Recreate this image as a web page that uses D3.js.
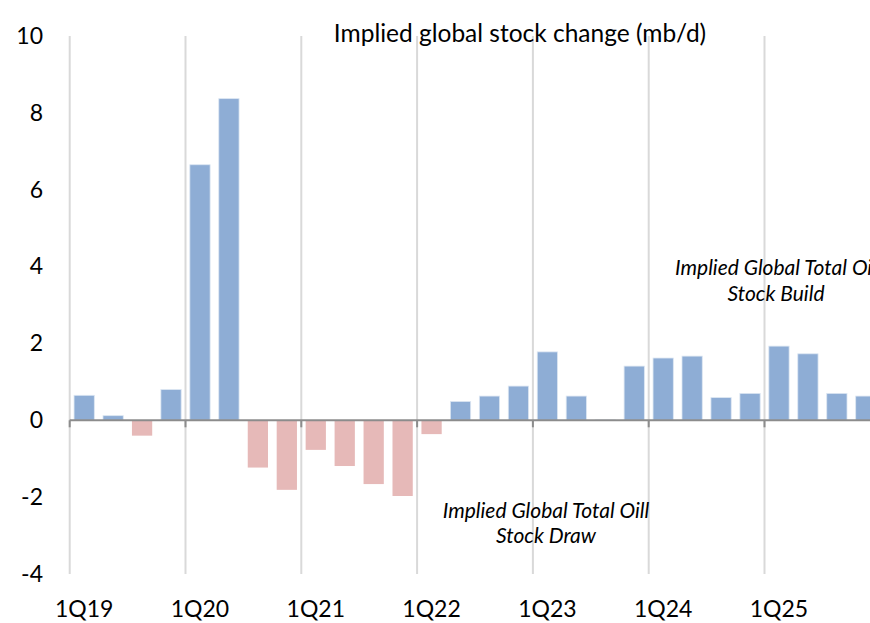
<!DOCTYPE html>
<html lang="en">
<head>
<meta charset="utf-8">
<title>Implied global stock change</title>
<script src="https://cdn.jsdelivr.net/npm/d3@7"></script>
<style>
  body { margin: 0; background: #fff; }
  svg { display: block; font-family: Lato, "Open Sans", sans-serif; }
</style>
</head>
<body>
<script>
// quarters and implied stock change (mb/d)
var quarters = ["1Q19","2Q19","3Q19","4Q19","1Q20","2Q20","3Q20","4Q20",
                "1Q21","2Q21","3Q21","4Q21","1Q22","2Q22","3Q22","4Q22",
                "1Q23","2Q23","3Q23","4Q23","1Q24","2Q24","3Q24","4Q24",
                "1Q25","2Q25","3Q25","4Q25"];
var stockChange = [0.65, 0.12, -0.40, 0.80, 6.65, 8.37, -1.23, -1.81,
                   -0.77, -1.19, -1.66, -1.97, -0.36, 0.49, 0.63, 0.89,
                   1.78, 0.63, 0.01, 1.41, 1.62, 1.67, 0.59, 0.70,
                   1.93, 1.73, 0.70, 0.63];
var yTicks = [-4, -2, 0, 2, 4, 6, 8, 10];

var width = 870, height = 623;

var svg = d3.select("body").append("svg")
    .attr("width", width)
    .attr("height", height);

var x = d3.scaleBand()
    .domain(quarters)
    .range([69.7, 880.3])
    .paddingInner(0.3)
    .paddingOuter(0.15);

var y = d3.scaleLinear()
    .domain([-4, 10])
    .range([574, 36]);

var half = (x.step() - x.bandwidth()) / 2;

// vertical gridlines at each year start
var yearStarts = quarters.filter(function(q) { return q.charAt(0) == "1"; });
svg.append("g")
    .selectAll("line")
    .data(yearStarts)
    .enter()
    .append("line")
    .attr("x1", function(d) { return x(d) - half; })
    .attr("x2", function(d) { return x(d) - half; })
    .attr("y1", y(10))
    .attr("y2", y(-4))
    .attr("stroke", "#d9d9d9")
    .attr("stroke-width", 2);

// bars
svg.append("g")
    .selectAll("rect")
    .data(stockChange)
    .enter()
    .append("rect")
    .attr("x", function(d, i) { return x(quarters[i]); })
    .attr("y", function(d) { return y(Math.max(0, d)); })
    .attr("width", x.bandwidth())
    .attr("height", function(d) { return Math.abs(y(d) - y(0)); })
    .attr("fill", function(d) { return d < 0 ? "#e6b9b8" : "#8eadd5"; })
    .attr("stroke", function(d) { return d < 0 ? "none" : "#dce6f2"; })
    .attr("stroke-width", 0.8);

// zero axis with ticks at the year boundaries
svg.append("line")
    .attr("x1", 69.7)
    .attr("x2", width)
    .attr("y1", y(0))
    .attr("y2", y(0))
    .attr("stroke", "#8c8c8c")
    .attr("stroke-width", 2);

svg.append("g")
    .selectAll("line")
    .data(yearStarts)
    .enter()
    .append("line")
    .attr("x1", function(d) { return x(d) - half; })
    .attr("x2", function(d) { return x(d) - half; })
    .attr("y1", y(0))
    .attr("y2", y(0) + 7)
    .attr("stroke", "#8c8c8c")
    .attr("stroke-width", 2);

// y axis labels (no line), plain hyphen for negatives
var yAxis = d3.axisLeft(y)
    .tickValues(yTicks)
    .tickSize(0)
    .tickPadding(0)
    .tickFormat(function(d) { return String(d); });

var gy = svg.append("g")
    .attr("transform", "translate(43,0)")
    .call(yAxis);
gy.select(".domain").remove();
gy.selectAll("text")
    .attr("font-family", "Lato, 'Open Sans', sans-serif")
    .attr("font-size", 23)
    .attr("fill", "#000");

// x labels, one per year
svg.append("g")
    .selectAll("text")
    .data(yearStarts)
    .enter()
    .append("text")
    .attr("x", function(d) { return x(d) + x.bandwidth() / 2; })
    .attr("y", 617)
    .attr("text-anchor", "middle")
    .attr("font-size", 23)
    .attr("fill", "#000")
    .text(function(d) { return d; });

// title
svg.append("text")
    .attr("x", 520)
    .attr("y", 42)
    .attr("text-anchor", "middle")
    .attr("font-size", 24.5)
    .attr("fill", "#000")
    .text("Implied global stock change (mb/d)");

// annotations
var draw = svg.append("text")
    .attr("text-anchor", "middle")
    .attr("font-style", "italic")
    .attr("font-size", 21)
    .attr("fill", "#000");
draw.append("tspan").attr("x", 546).attr("y", 518).text("Implied Global Total Oill");
draw.append("tspan").attr("x", 546).attr("y", 543).text("Stock Draw");

var build = svg.append("text")
    .attr("text-anchor", "middle")
    .attr("font-style", "italic")
    .attr("font-size", 21)
    .attr("fill", "#000");
build.append("tspan").attr("x", 776).attr("y", 275).text("Implied Global Total Oil");
build.append("tspan").attr("x", 776).attr("y", 301).text("Stock Build");
</script>
</body>
</html>
